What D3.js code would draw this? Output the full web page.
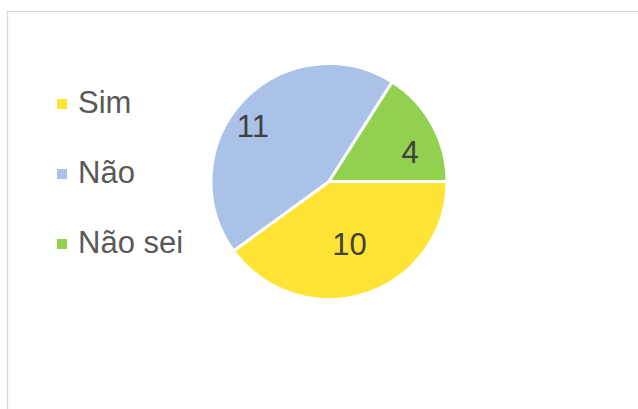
<!DOCTYPE html>
<html>
<head>
<meta charset="utf-8">
<script src="https://cdn.jsdelivr.net/npm/d3@7"></script>
<style>
  html, body { margin: 0; padding: 0; background: #fff; }
  svg { display: block; }
</style>
</head>
<body>
<script>
// ---- data ----
const categories = ["Sim", "Não", "Não sei"];
const values = [10, 11, 4];
const colors = ["#FFE335", "#ABC2E8", "#92D050"];

// ---- layout ----
const W = 638, H = 409;
const cx = 329, cy = 181.5, R = 118;
const startDeg = 90; // first slice starts at 3 o'clock
// label placement per slice: [radius fraction, angle offset in degrees]
const labelPlace = [[0.56, 0], [0.8, -7], [0.73, 9]];

const svg = d3.select("body").append("svg")
  .attr("width", W).attr("height", H);

svg.append("rect")
  .attr("width", W).attr("height", H).attr("fill", "#fff");

// chart frame
svg.append("rect")
  .attr("x", 7.5).attr("y", 11.5)
  .attr("width", W + 20).attr("height", H + 20)
  .attr("fill", "none").attr("stroke", "#D9D9D9").attr("stroke-width", 1.3);

const data = categories.map((c, i) => ({ cat: c, value: values[i], color: colors[i], idx: i }));

const pie = d3.pie()
  .value(d => d.value)
  .sort(null)
  .startAngle(startDeg * Math.PI / 180)
  .endAngle((startDeg + 360) * Math.PI / 180);

const arcs = pie(data);
const arc = d3.arc().innerRadius(0).outerRadius(R);

const g = svg.append("g").attr("transform", `translate(${cx},${cy})`);

g.selectAll("path.slice")
  .data(arcs)
  .join("path")
  .attr("class", "slice")
  .attr("d", arc)
  .attr("fill", d => d.data.color)
  .attr("stroke", "#fff")
  .attr("stroke-width", 3)
  .attr("stroke-linejoin", "round");

const fontFamily = "'Liberation Sans', Arial, sans-serif";

g.selectAll("text.lbl")
  .data(arcs)
  .join("text")
  .attr("class", "lbl")
  .attr("text-anchor", "middle")
  .attr("font-family", fontFamily)
  .attr("font-size", 31)
  .attr("fill", "#404040")
  .attr("x", d => {
    const p = labelPlace[d.data.idx];
    const a = (d.startAngle + d.endAngle) / 2 + p[1] * Math.PI / 180;
    return Math.sin(a) * R * p[0];
  })
  .attr("y", d => {
    const p = labelPlace[d.data.idx];
    const a = (d.startAngle + d.endAngle) / 2 + p[1] * Math.PI / 180;
    return -Math.cos(a) * R * p[0] + 11;
  })
  .text(d => d.data.value);

// legend
const legend = svg.append("g").attr("transform", "translate(57,0)");
const ly = d3.scalePoint().domain(categories).range([113, 253]);

const items = legend.selectAll("g.item")
  .data(data)
  .join("g")
  .attr("class", "item")
  .attr("transform", d => `translate(0,${ly(d.cat)})`);

items.append("rect")
  .attr("x", 0).attr("y", -14)
  .attr("width", 10).attr("height", 10)
  .attr("fill", d => d.color);

items.append("text")
  .attr("x", 21).attr("y", 0)
  .attr("font-family", fontFamily)
  .attr("font-size", 31)
  .attr("fill", "#595959")
  .text(d => d.cat);
</script>
</body>
</html>
